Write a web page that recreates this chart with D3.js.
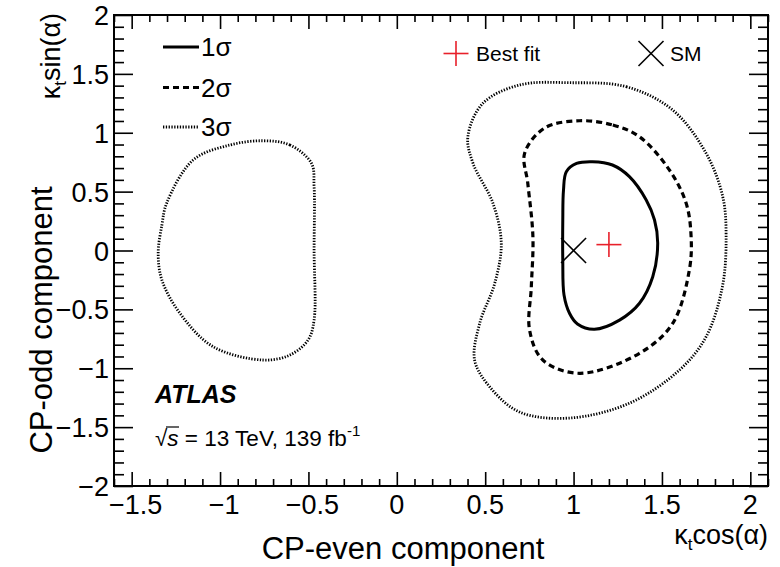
<!DOCTYPE html>
<html>
<head>
<meta charset="utf-8">
<script src="https://cdn.jsdelivr.net/npm/d3@7"></script>
<style>
  html, body { margin: 0; padding: 0; background: #fff; }
  svg text { font-family: "Liberation Sans", Arial, Helvetica, sans-serif; fill: #000; }
</style>
</head>
<body>
<svg id="chart" width="780" height="567"></svg>
<script>
// Likelihood contours in the (kappa_t cos(alpha), kappa_t sin(alpha)) plane
const contour1sigma = [
  [1.107, 0.754], [1.220, 0.726], [1.316, 0.627], [1.411, 0.429], [1.458, 0.259],
  [1.476, 0.061], [1.448, -0.223], [1.373, -0.448], [1.260, -0.591], [1.118, -0.669],
  [1.022, -0.624], [0.977, -0.533], [0.946, -0.378], [0.939, -0.081], [0.939, 0.259],
  [0.943, 0.513], [0.959, 0.669], [1.017, 0.739]
];
const contour2sigma = [
  [1.034, 1.102], [1.222, 1.066], [1.373, 0.966], [1.542, 0.684], [1.637, 0.401],
  [1.665, 0.117], [1.655, -0.166], [1.561, -0.618], [1.373, -0.873], [1.034, -1.043],
  [0.826, -0.930], [0.751, -0.675], [0.761, -0.307], [0.770, 0.117], [0.741, 0.571],
  [0.723, 0.825], [0.836, 1.040]
];
const contour3sigmaMain = [
  [0.977, 1.425], [1.298, 1.391], [1.561, 1.193], [1.750, 0.825], [1.844, 0.457],
  [1.863, 0.117], [1.842, -0.307], [1.750, -0.732], [1.599, -1.015], [1.317, -1.296],
  [0.977, -1.423], [0.695, -1.372], [0.525, -1.157], [0.440, -0.930], [0.469, -0.618],
  [0.554, -0.279], [0.591, 0.061], [0.544, 0.401], [0.431, 0.741], [0.402, 0.966],
  [0.487, 1.250], [0.695, 1.406]
];
const contour3sigmaIsland = [
  [-0.756, 0.932], [-0.605, 0.896], [-0.483, 0.741], [-0.468, 0.542], [-0.468, 0.004],
  [-0.468, -0.590], [-0.502, -0.760], [-0.605, -0.888], [-0.756, -0.930], [-1.039, -0.817],
  [-1.227, -0.533], [-1.329, -0.251], [-1.350, -0.024], [-1.329, 0.217], [-1.302, 0.401],
  [-1.152, 0.769], [-0.944, 0.896]
];
const bestFit = [1.2, 0.05];
const standardModel = [1.0, 0.0];

// Axis ranges and ticks
const xDomain = [-1.6, 2.1];
const yDomain = [-2, 2];
const xMajorTicks = [-1.5, -1, -0.5, 0, 0.5, 1, 1.5, 2];
const yMajorTicks = [-2, -1.5, -1, -0.5, 0, 0.5, 1, 1.5, 2];
const xTickLabels = ["\u22121.5", "\u22121", "\u22120.5", "0", "0.5", "1", "1.5", "2"];
const yTickLabels = ["\u22122", "\u22121.5", "\u22121", "\u22120.5", "0", "0.5", "1", "1.5", "2"];
const legendLabels = ["1\u03c3", "2\u03c3", "3\u03c3"];

const svg = d3.select("#chart");
const frame = { left: 114, right: 768, top: 15, bottom: 486 };

const x = d3.scaleLinear().domain(xDomain).range([frame.left, frame.right]);
const y = d3.scaleLinear().domain(yDomain).range([frame.bottom, frame.top]);

const xMinor = d3.range(-16, 22).map(d => d / 10).filter(v => !xMajorTicks.some(m => Math.abs(m - v) < 1e-6));
const yMinor = d3.range(-20, 21).map(d => d / 10).filter(v => !yMajorTicks.some(m => Math.abs(m - v) < 1e-6));

// Line styles per confidence level
const styles = {
  s1: { width: 3, dash: null },
  s2: { width: 3.2, dash: "6,4" },
  s3: { width: 2.8, dash: "1.3,1.5" }
};

const line = d3.line().x(d => x(d[0])).y(d => y(d[1])).curve(d3.curveCatmullRomClosed.alpha(0.5));

function drawContour(points, st) {
  svg.append("path")
    .datum(points)
    .attr("d", line)
    .attr("fill", "none")
    .attr("stroke", "#000")
    .attr("stroke-width", st.width)
    .attr("stroke-dasharray", st.dash);
}
drawContour(contour3sigmaIsland, styles.s3);
drawContour(contour3sigmaMain, styles.s3);
drawContour(contour2sigma, styles.s2);
drawContour(contour1sigma, styles.s1);

// Markers
function drawCross(cx, cy, h, color) {
  const g = svg.append("g").attr("stroke", color).attr("stroke-width", 1.6);
  g.append("line").attr("x1", cx - h).attr("x2", cx + h).attr("y1", cy).attr("y2", cy);
  g.append("line").attr("x1", cx).attr("x2", cx).attr("y1", cy - h).attr("y2", cy + h);
}
function drawX(cx, cy, h, color) {
  const g = svg.append("g").attr("stroke", color).attr("stroke-width", 1.6);
  g.append("line").attr("x1", cx - h).attr("x2", cx + h).attr("y1", cy - h).attr("y2", cy + h);
  g.append("line").attr("x1", cx - h).attr("x2", cx + h).attr("y1", cy + h).attr("y2", cy - h);
}
drawX(x(standardModel[0]), y(standardModel[1]), 12.5, "#000");
drawCross(x(bestFit[0]), y(bestFit[1]), 12.5, "#e8202a");

// Frame
svg.append("rect")
  .attr("x", frame.left).attr("y", frame.top)
  .attr("width", frame.right - frame.left).attr("height", frame.bottom - frame.top)
  .attr("fill", "none").attr("stroke", "#000").attr("stroke-width", 2);

// Ticks (pointing inward on all four sides)
function tickAxis(gen, scale, values, size, transform) {
  svg.append("g")
    .attr("transform", transform)
    .call(gen(scale).tickValues(values).tickSize(size).tickFormat(""))
    .call(g => g.select(".domain").remove())
    .call(g => g.selectAll("line").attr("stroke", "#000").attr("stroke-width", 1.6));
}
tickAxis(d3.axisBottom, x, xMajorTicks, -14, `translate(0,${frame.bottom})`);
tickAxis(d3.axisBottom, x, xMinor, -7, `translate(0,${frame.bottom})`);
tickAxis(d3.axisTop, x, xMajorTicks, -14, `translate(0,${frame.top})`);
tickAxis(d3.axisTop, x, xMinor, -7, `translate(0,${frame.top})`);
tickAxis(d3.axisLeft, y, yMajorTicks, -19, `translate(${frame.left},0)`);
tickAxis(d3.axisLeft, y, yMinor, -10, `translate(${frame.left},0)`);
tickAxis(d3.axisRight, y, yMajorTicks, -19, `translate(${frame.right},0)`);
tickAxis(d3.axisRight, y, yMinor, -10, `translate(${frame.right},0)`);

// Tick labels
svg.append("g").selectAll("text")
  .data(xMajorTicks)
  .join("text")
  .attr("x", d => x(d) + (d < 0 ? 4 : 0))
  .attr("y", 514)
  .attr("text-anchor", "middle")
  .attr("font-size", 27)
  .text((d, i) => xTickLabels[i]);

svg.append("g").selectAll("text")
  .data(yMajorTicks)
  .join("text")
  .attr("x", 109)
  .attr("y", d => y(d) + 10)
  .attr("text-anchor", "end")
  .attr("font-size", 27)
  .text((d, i) => yTickLabels[i]);

// Axis titles
svg.append("text")
  .attr("x", 403).attr("y", 559)
  .attr("text-anchor", "middle").attr("font-size", 31)
  .text("CP-even component");

svg.append("text")
  .attr("transform", "translate(52,320) rotate(-90)")
  .attr("text-anchor", "middle").attr("font-size", 31)
  .text("CP-odd component");

const xVar = svg.append("text")
  .attr("x", 768).attr("y", 544)
  .attr("text-anchor", "end").attr("font-size", 27);
xVar.append("tspan").text("\u03ba");
xVar.append("tspan").attr("font-size", 17).attr("dy", 6).text("t");
xVar.append("tspan").attr("dy", -6).text("cos(\u03b1)");

const yVar = svg.append("text")
  .attr("transform", "translate(60,13) rotate(-90)")
  .attr("text-anchor", "end").attr("font-size", 27);
yVar.append("tspan").text("\u03ba");
yVar.append("tspan").attr("font-size", 17).attr("dy", 6).text("t");
yVar.append("tspan").attr("dy", -6).text("sin(\u03b1)");

// Legend for contour levels
const legendStyles = [styles.s1, styles.s2, styles.s3];
const legendY = [47, 87.5, 127];
const lg = svg.append("g");
legendStyles.forEach((st, i) => {
  lg.append("line")
    .attr("x1", 163).attr("x2", 199)
    .attr("y1", legendY[i]).attr("y2", legendY[i])
    .attr("stroke", "#000").attr("stroke-width", st.width)
    .attr("stroke-dasharray", st.dash);
  lg.append("text")
    .attr("x", 201).attr("y", legendY[i] + 9)
    .attr("font-size", 26)
    .text(legendLabels[i]);
});

// Legend for markers
drawCross(456, 53.5, 12.5, "#e8202a");
svg.append("text").attr("x", 476).attr("y", 61).attr("font-size", 21).text("Best fit");
drawX(651, 53.5, 12.5, "#000");
svg.append("text").attr("x", 670).attr("y", 61).attr("font-size", 21).text("SM");

// Experiment label
svg.append("text")
  .attr("x", 155).attr("y", 403)
  .attr("font-size", 25).attr("font-weight", "bold").attr("font-style", "italic")
  .text("ATLAS");

const lumi = svg.append("text")
  .attr("x", 155).attr("y", 446)
  .attr("font-size", 22.5);
lumi.append("tspan").text("\u221a");
lumi.append("tspan").attr("font-style", "italic").text("s");
lumi.append("tspan").text(" = 13 TeV, 139 fb");
lumi.append("tspan").attr("font-size", 15).attr("dy", -10).text("-1");
// overline of the square root
svg.append("line")
  .attr("x1", 166).attr("x2", 179).attr("y1", 427).attr("y2", 427)
  .attr("stroke", "#000").attr("stroke-width", 1.2);
</script>
</body>
</html>
